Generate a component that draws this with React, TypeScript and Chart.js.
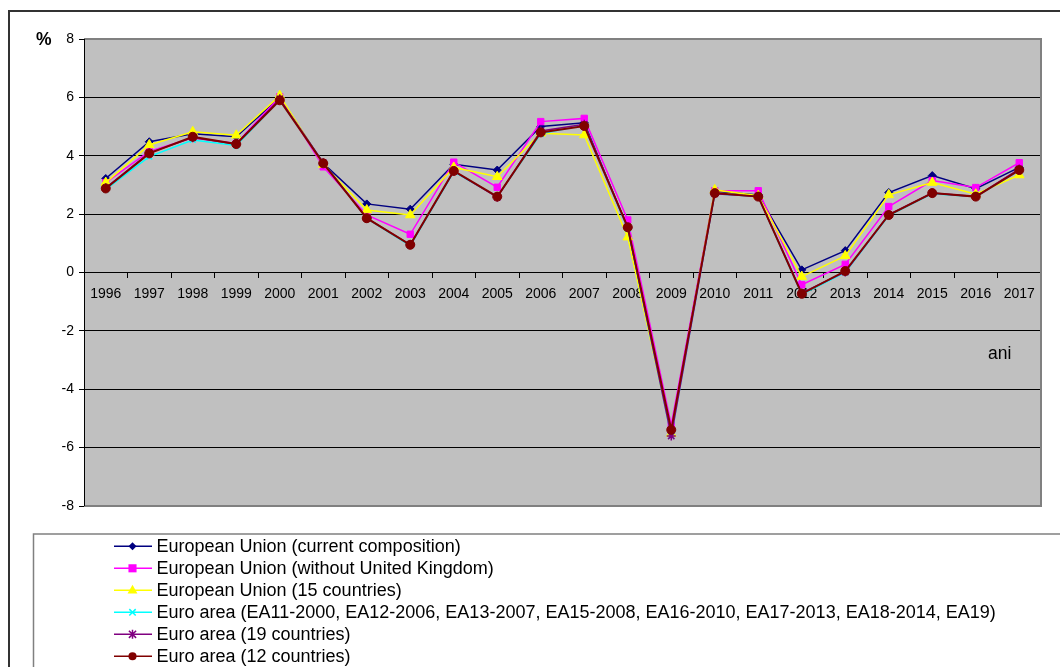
import React, { useEffect, useRef } from "react";
import { Chart, registerables } from "chart.js";

Chart.register(...registerables);

const years = [
  "1996", "1997", "1998", "1999", "2000", "2001", "2002", "2003", "2004", "2005", "2006",
  "2007", "2008", "2009", "2010", "2011", "2012", "2013", "2014", "2015", "2016", "2017",
];

const euCurrent = [3.22, 4.48, 4.75, 4.65, 6.0, 3.74, 2.35, 2.17, 3.71, 3.51, 5.0, 5.13, 1.52, -5.4, 2.78, 2.66, 0.09, 0.75, 2.74, 3.32, 2.87, 3.6];
const euNoUK = [3.08, 4.15, 4.62, 4.42, 6.02, 3.62, 1.97, 1.31, 3.78, 2.92, 5.17, 5.28, 1.8, -5.22, 2.8, 2.8, -0.42, 0.28, 2.26, 3.15, 2.91, 3.76];
const eu15 = [3.08, 4.37, 4.82, 4.7, 6.06, 3.7, 2.14, 1.97, 3.6, 3.28, 4.77, 4.71, 1.21, -5.52, 2.83, 2.63, -0.14, 0.57, 2.66, 3.08, 2.68, 3.34];
const euroArea = [2.85, 3.97, 4.54, 4.35, 5.9, 3.76, 1.85, 0.92, 3.45, 2.6, 4.75, 5.05, 1.5, -5.6, 2.7, 2.6, -0.75, 0.0, 1.95, 2.7, 2.6, 3.5];
const ea19 = [2.9, 4.1, 4.62, 4.4, 5.95, 3.76, 1.86, 0.95, 3.47, 2.58, 4.85, 5.08, 1.55, -5.6, 2.7, 2.6, -0.7, 0.02, 1.98, 2.72, 2.6, 3.55];
const ea12 = [2.88, 4.08, 4.65, 4.4, 5.9, 3.74, 1.86, 0.95, 3.48, 2.6, 4.8, 5.02, 1.55, -5.39, 2.72, 2.6, -0.73, 0.05, 1.97, 2.72, 2.6, 3.51];

const seriesLabels = [
  "European Union (current composition)",
  "European Union (without United Kingdom)",
  "European Union (15 countries)",
  "Euro area (EA11-2000, EA12-2006, EA13-2007, EA15-2008, EA16-2010, EA17-2013, EA18-2014, EA19)",
  "Euro area (19 countries)",
  "Euro area (12 countries)",
];
const seriesValues = [euCurrent, euNoUK, eu15, euroArea, ea19, ea12];
const seriesColors = ["#000080", "#FF00FF", "#FFFF00", "#00FFFF", "#800080", "#800000"];
const seriesPointStyles = ["rectRot", "rect", "triangle", "crossRot", "star", "circle"];
const seriesPointRadius = [4, 4.5, 5.5, 4, 4.5, 4.5];
const seriesLineWidth = [1.5, 1.5, 1.5, 1.5, 1.5, 2];

const yMin = -8;
const yMax = 8;
const yStep = 2;

const FONT = "'Liberation Sans', Arial, sans-serif";

function drawMarker(ctx: CanvasRenderingContext2D, style: string, x: number, y: number, r: number, color: string) {
  ctx.save();
  ctx.fillStyle = color;
  ctx.strokeStyle = color;
  ctx.lineWidth = 1.5;
  ctx.beginPath();
  if (style === "rectRot") {
    ctx.moveTo(x, y - r);
    ctx.lineTo(x + r, y);
    ctx.lineTo(x, y + r);
    ctx.lineTo(x - r, y);
    ctx.closePath();
    ctx.fill();
  } else if (style === "rect") {
    const s = r * 0.9;
    ctx.rect(x - s, y - s, 2 * s, 2 * s);
    ctx.fill();
  } else if (style === "triangle") {
    ctx.moveTo(x, y - r);
    ctx.lineTo(x + r * 0.9, y + r * 0.6);
    ctx.lineTo(x - r * 0.9, y + r * 0.6);
    ctx.closePath();
    ctx.fill();
  } else if (style === "crossRot") {
    const s = r * 0.8;
    ctx.moveTo(x - s, y - s);
    ctx.lineTo(x + s, y + s);
    ctx.moveTo(x + s, y - s);
    ctx.lineTo(x - s, y + s);
    ctx.stroke();
  } else if (style === "star") {
    const s = r * 0.8;
    ctx.moveTo(x - s, y - s);
    ctx.lineTo(x + s, y + s);
    ctx.moveTo(x + s, y - s);
    ctx.lineTo(x - s, y + s);
    ctx.moveTo(x, y - r);
    ctx.lineTo(x, y + r);
    ctx.stroke();
  } else {
    ctx.arc(x, y, r * 0.9, 0, Math.PI * 2);
    ctx.fill();
  }
  ctx.restore();
}

const framePlugin = {
  id: "framePlugin",
  beforeDraw(chart: any) {
    const { ctx, width, height, chartArea } = chart;
    ctx.save();
    ctx.fillStyle = "#FFFFFF";
    ctx.fillRect(0, 0, width, height);
    // outer chart frame
    ctx.strokeStyle = "#333333";
    ctx.lineWidth = 2;
    ctx.beginPath();
    ctx.moveTo(9, height + 2);
    ctx.lineTo(9, 11);
    ctx.lineTo(width + 2, 11);
    ctx.stroke();
    // plot area
    ctx.fillStyle = "#C0C0C0";
    ctx.fillRect(chartArea.left, chartArea.top, chartArea.right - chartArea.left, chartArea.bottom - chartArea.top);
    ctx.restore();
  },
  beforeDatasetsDraw(chart: any) {
    const { ctx, chartArea } = chart;
    ctx.save();
    ctx.strokeStyle = "#808080";
    ctx.lineWidth = 2;
    ctx.beginPath();
    ctx.moveTo(chartArea.left, chartArea.bottom);
    ctx.lineTo(chartArea.right, chartArea.bottom);
    ctx.lineTo(chartArea.right, chartArea.top);
    ctx.lineTo(chartArea.left, chartArea.top);
    ctx.stroke();
    ctx.strokeStyle = "#000000";
    ctx.lineWidth = 1;
    ctx.beginPath();
    ctx.moveTo(chartArea.left + 0.5, chartArea.top);
    ctx.lineTo(chartArea.left + 0.5, chartArea.bottom);
    ctx.stroke();
    ctx.restore();
  },
  afterDraw(chart: any) {
    const { ctx, chartArea, height, width } = chart;
    ctx.save();
    // "%" title
    ctx.fillStyle = "#000000";
    ctx.font = `bold 17.5px ${FONT}`;
    ctx.textAlign = "left";
    ctx.textBaseline = "middle";
    ctx.fillText("%", 36, chartArea.top + 1);
    // "ani"
    ctx.font = `17.5px ${FONT}`;
    ctx.fillText("ani", chartArea.right - 53, 354);
    // legend box
    const boxLeft = 33.5;
    const boxTop = 534;
    ctx.strokeStyle = "#808080";
    ctx.lineWidth = 1.5;
    ctx.beginPath();
    ctx.moveTo(boxLeft, height + 2);
    ctx.lineTo(boxLeft, boxTop);
    ctx.lineTo(width + 2, boxTop);
    ctx.stroke();
    // legend items
    ctx.font = `18px ${FONT}`;
    ctx.textBaseline = "middle";
    chart.data.datasets.forEach((ds: any, i: number) => {
      const y = 546.3 + i * 22;
      ctx.strokeStyle = ds.borderColor;
      ctx.lineWidth = 1.5;
      ctx.beginPath();
      ctx.moveTo(114, y);
      ctx.lineTo(152, y);
      ctx.stroke();
      drawMarker(ctx, ds.pointStyle, 132.5, y, ds.pointRadius, ds.pointBackgroundColor);
      ctx.fillStyle = "#000000";
      ctx.fillText(ds.label, 156.5, y + 0.5);
    });
    ctx.restore();
  },
};

export default function App() {
  const canvasRef = useRef<HTMLCanvasElement | null>(null);

  useEffect(() => {
    const canvas = canvasRef.current;
    if (!canvas) return;
    const datasets = seriesLabels.map((label, i) => ({
      label,
      data: seriesValues[i],
      borderColor: seriesColors[i],
      backgroundColor: seriesColors[i],
      pointBackgroundColor: seriesColors[i],
      pointBorderColor: seriesColors[i],
      pointStyle: seriesPointStyles[i],
      pointRadius: seriesPointRadius[i],
      pointBorderWidth: i === 3 || i === 4 ? 1.5 : 1,
      borderWidth: seriesLineWidth[i],
      tension: 0,
      fill: false,
      order: seriesLabels.length - 1 - i,
    }));
    const chart = new Chart(canvas, {
      type: "line",
      data: { labels: years, datasets },
      plugins: [framePlugin],
      options: {
        responsive: false,
        animation: false,
        devicePixelRatio: 1,
        layout: { padding: { left: 24, top: 39, right: 19, bottom: 161 } },
        plugins: {
          legend: { display: false },
          tooltip: { enabled: false },
          title: { display: false },
        },
        scales: {
          x: {
            type: "category",
            offset: true,
            position: { y: 0 },
            grid: {
              offset: true,
              drawOnChartArea: false,
              drawTicks: true,
              tickLength: 5,
              color: "#000000",
            },
            border: { display: true, color: "#000000", width: 1 },
            ticks: {
              color: "#000000",
              font: { family: FONT, size: 14 },
              padding: 8,
              maxRotation: 0,
              minRotation: 0,
              autoSkip: false,
            },
          },
          y: {
            min: yMin,
            max: yMax,
            grid: {
              color: (c: any) => (c.tick && (c.tick.value === yMin || c.tick.value === yMax) ? "rgba(0,0,0,0)" : "#000000"),
              tickColor: "#000000",
              drawTicks: true,
              tickLength: 5,
              lineWidth: 1,
            },
            border: { display: true, color: "#000000", width: 1 },
            ticks: {
              stepSize: yStep,
              color: "#000000",
              font: { family: FONT, size: 14 },
              padding: 5,
            },
            afterFit: (s: any) => {
              s.width = 60;
            },
          },
        },
      } as any,
    });
    return () => chart.destroy();
  }, []);

  return (
    <div style={{ position: "absolute", left: 0, top: 0, width: 1060, height: 667 }}>
      <canvas ref={canvasRef} width={1060} height={667} style={{ width: 1060, height: 667 }} />
    </div>
  );
}
